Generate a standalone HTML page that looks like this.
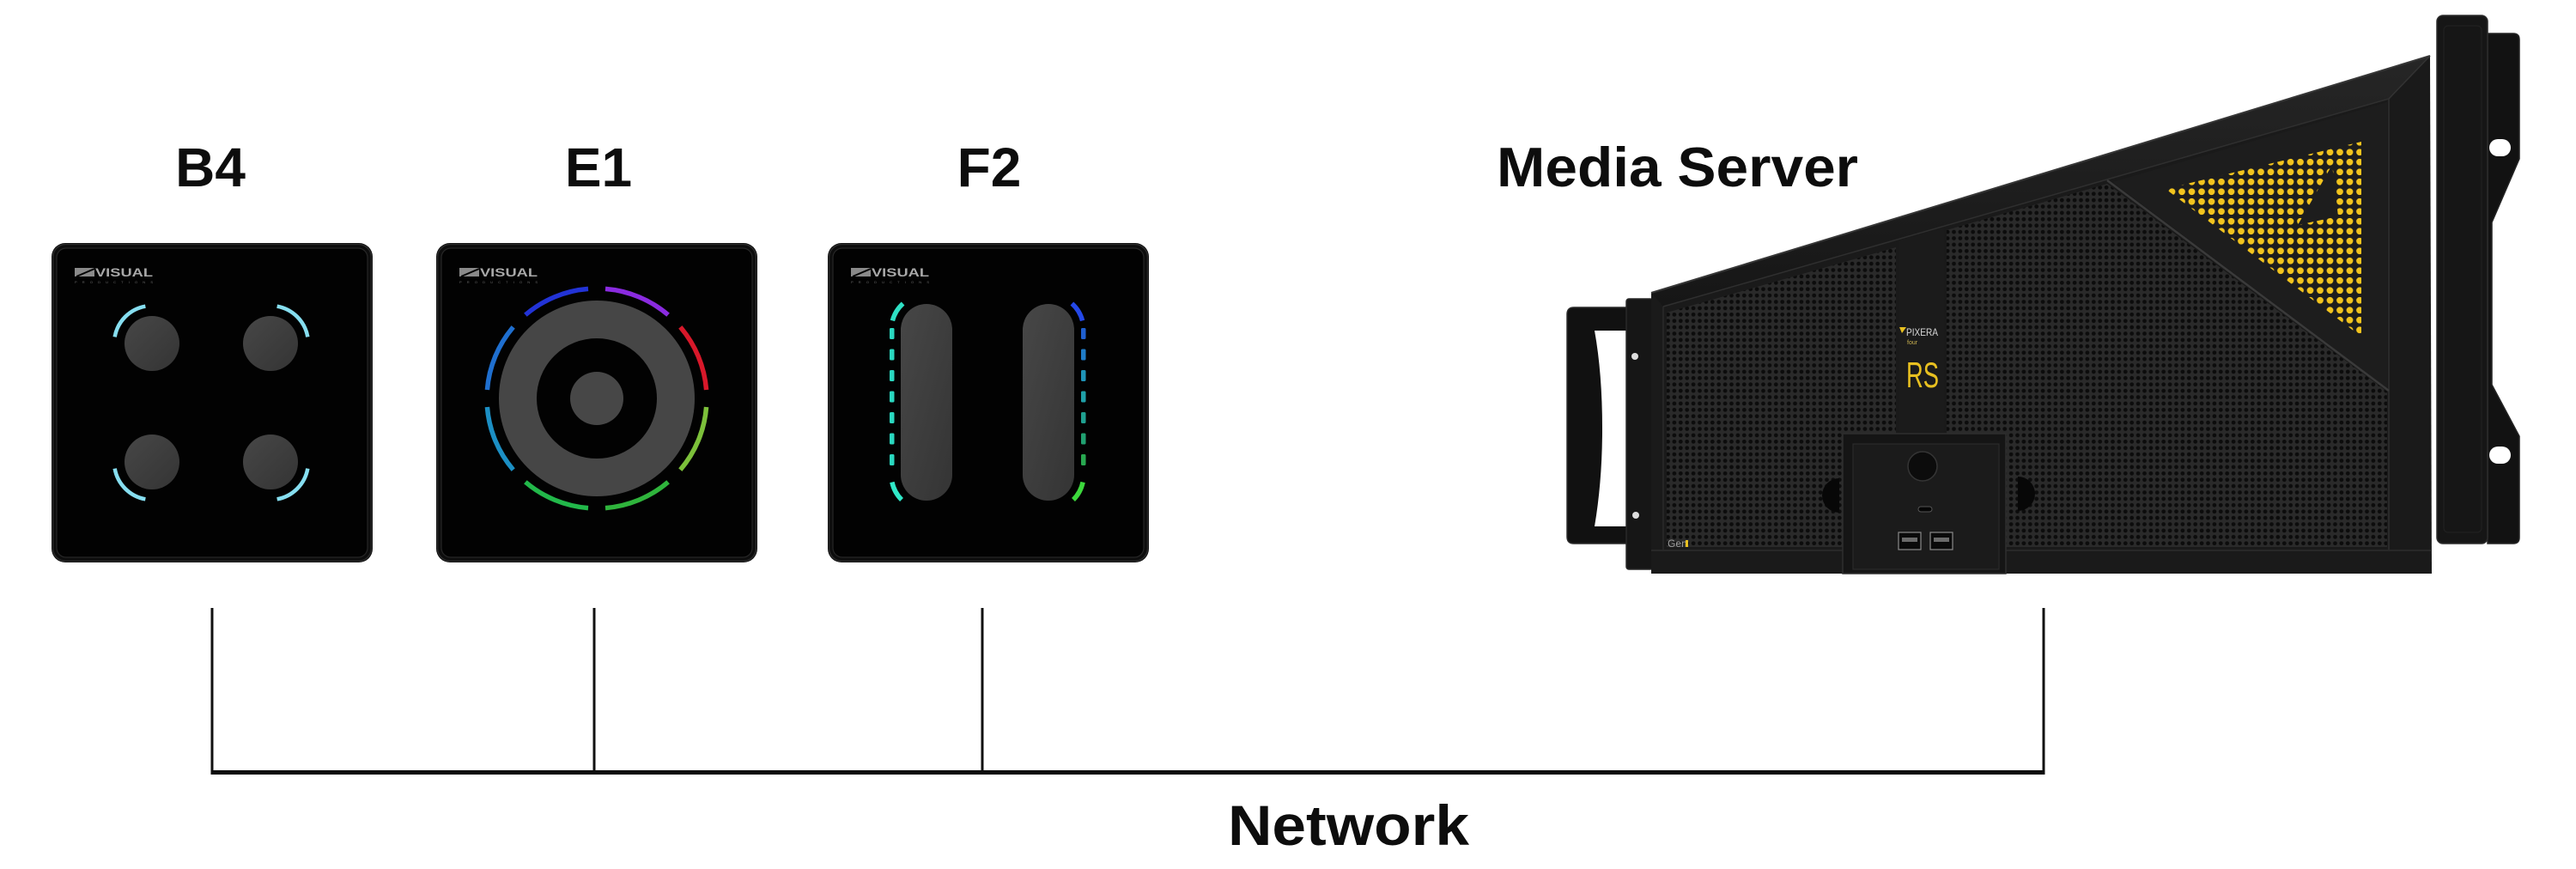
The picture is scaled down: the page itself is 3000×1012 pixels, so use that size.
<!DOCTYPE html>
<html>
<head>
<meta charset="utf-8">
<style>
  html, body { margin: 0; padding: 0; background: #ffffff; }
  body { width: 3000px; height: 1012px; overflow: hidden; }
  svg { display: block; }
  .lbl { font-family: "Liberation Sans", Arial, sans-serif; font-weight: bold; fill: #0d0d0d; }
</style>
</head>
<body>
<svg width="3000" height="1012" viewBox="0 0 3000 1012" xmlns="http://www.w3.org/2000/svg">
  <defs>
    <pattern id="perf" patternUnits="userSpaceOnUse" width="7.4" height="7.4">
      <rect width="7.4" height="7.4" fill="#2a2a2a"/>
      <circle cx="3.7" cy="3.7" r="2.4" fill="#0c0c0c"/>
    </pattern>
    <pattern id="ydots" patternUnits="userSpaceOnUse" x="2742.25" y="160" width="11.5" height="11.5">
      <circle cx="5.75" cy="5.75" r="3.9" fill="#f2c41e"/>
    </pattern>
    <linearGradient id="btn" x1="0" y1="0" x2="1" y2="1">
      <stop offset="0" stop-color="#474747"/>
      <stop offset="1" stop-color="#343434"/>
    </linearGradient>
    <linearGradient id="topedge" x1="0" y1="0" x2="0" y2="1">
      <stop offset="0" stop-color="#262626"/>
      <stop offset="1" stop-color="#161616"/>
    </linearGradient>
  </defs>

  <rect width="3000" height="1012" fill="#ffffff"/>

  <!-- Labels -->
  <text class="lbl" x="245" y="217" font-size="64" text-anchor="middle">B4</text>
  <text class="lbl" x="697" y="217" font-size="64" text-anchor="middle">E1</text>
  <text class="lbl" x="1152" y="217" font-size="64" text-anchor="middle">F2</text>
  <text class="lbl" x="1743" y="217" font-size="65" textLength="421" lengthAdjust="spacingAndGlyphs">Media Server</text>
  <text class="lbl" x="1430" y="984" font-size="66" textLength="281" lengthAdjust="spacingAndGlyphs">Network</text>

  <!-- Network lines -->
  <rect x="245.5" y="708" width="3" height="194" fill="#111"/>
  <rect x="690.5" y="708" width="3" height="194" fill="#111"/>
  <rect x="1142.5" y="708" width="3" height="194" fill="#111"/>
  <rect x="2378.5" y="708" width="3" height="194" fill="#111"/>
  <rect x="245.5" y="897" width="2136" height="5" fill="#0d0d0d"/>

  <!-- ===== B4 ===== -->
  <g transform="translate(60,283)">
    <rect x="0" y="0" width="374" height="372" rx="16" fill="#0d0d0d"/>
    <rect x="1.5" y="1.5" width="371" height="369" rx="15" fill="none" stroke="#2a2a2a" stroke-width="1.5"/>
    <rect x="6" y="6" width="362" height="360" rx="11" fill="#020202" stroke="#262626" stroke-width="1.2"/>
    <rect x="27" y="29" width="23" height="10" fill="#8a8a8a"/>
    <line x1="29" y1="39" x2="50" y2="30" stroke="#020202" stroke-width="2"/>
    <text x="51" y="39" font-family="Liberation Sans, sans-serif" font-weight="bold" font-size="14" fill="#a8a8a8" textLength="67" lengthAdjust="spacingAndGlyphs">VISUAL</text>
    <text x="27" y="47" font-family="Liberation Sans, sans-serif" font-size="4" fill="#6a6a6a" textLength="91" lengthAdjust="spacing">PRODUCTIONS</text>
    <circle cx="117" cy="117" r="32" fill="url(#btn)"/>
    <circle cx="255" cy="117" r="32" fill="url(#btn)"/>
    <circle cx="117" cy="255" r="32" fill="url(#btn)"/>
    <circle cx="255" cy="255" r="32" fill="url(#btn)"/>
    <g fill="none" stroke="#86def0" stroke-width="4.5">
      <path d="M73.67 109.36 A44 44 0 0 1 109.36 73.67"/>
      <path d="M262.64 73.67 A44 44 0 0 1 298.33 109.36"/>
      <path d="M109.36 298.33 A44 44 0 0 1 73.67 262.64"/>
      <path d="M298.33 262.64 A44 44 0 0 1 262.64 298.33"/>
    </g>
  </g>

  <!-- ===== E1 ===== -->
  <g transform="translate(508,283)">
    <rect x="0" y="0" width="374" height="372" rx="16" fill="#0d0d0d"/>
    <rect x="1.5" y="1.5" width="371" height="369" rx="15" fill="none" stroke="#2a2a2a" stroke-width="1.5"/>
    <rect x="6" y="6" width="362" height="360" rx="11" fill="#020202" stroke="#262626" stroke-width="1.2"/>
    <rect x="27" y="29" width="23" height="10" fill="#8a8a8a"/>
    <line x1="29" y1="39" x2="50" y2="30" stroke="#020202" stroke-width="2"/>
    <text x="51" y="39" font-family="Liberation Sans, sans-serif" font-weight="bold" font-size="14" fill="#a8a8a8" textLength="67" lengthAdjust="spacingAndGlyphs">VISUAL</text>
    <text x="27" y="47" font-family="Liberation Sans, sans-serif" font-size="4" fill="#6a6a6a" textLength="91" lengthAdjust="spacing">PRODUCTIONS</text>
    <circle cx="187" cy="181" r="92" fill="none" stroke="#464646" stroke-width="44"/>
    <circle cx="187" cy="181" r="31" fill="#474747"/>
    <g fill="none" stroke-width="5.5">
      <path d="M314.6 191.0 A128 128 0 0 1 284.3 264.1" stroke="#7cc03a"/>
      <path d="M270.1 278.3 A128 128 0 0 1 197.0 308.6" stroke="#2fb43c"/>
      <path d="M177.0 308.6 A128 128 0 0 1 103.9 278.3" stroke="#22b84a"/>
      <path d="M89.7 264.1 A128 128 0 0 1 59.4 191.0" stroke="#1c8fc4"/>
      <path d="M59.4 171.0 A128 128 0 0 1 89.7 97.9" stroke="#1f6fcf"/>
      <path d="M103.9 83.7 A128 128 0 0 1 177.0 53.4" stroke="#2233d6"/>
      <path d="M197.0 53.4 A128 128 0 0 1 270.1 83.7" stroke="#8a2be0"/>
      <path d="M284.3 97.9 A128 128 0 0 1 314.6 171.0" stroke="#d8182a"/>
    </g>
  </g>

  <!-- ===== F2 ===== -->
  <g transform="translate(964,283)">
    <rect x="0" y="0" width="374" height="372" rx="16" fill="#0d0d0d"/>
    <rect x="1.5" y="1.5" width="371" height="369" rx="15" fill="none" stroke="#2a2a2a" stroke-width="1.5"/>
    <rect x="6" y="6" width="362" height="360" rx="11" fill="#020202" stroke="#262626" stroke-width="1.2"/>
    <rect x="27" y="29" width="23" height="10" fill="#8a8a8a"/>
    <line x1="29" y1="39" x2="50" y2="30" stroke="#020202" stroke-width="2"/>
    <text x="51" y="39" font-family="Liberation Sans, sans-serif" font-weight="bold" font-size="14" fill="#a8a8a8" textLength="67" lengthAdjust="spacingAndGlyphs">VISUAL</text>
    <text x="27" y="47" font-family="Liberation Sans, sans-serif" font-size="4" fill="#6a6a6a" textLength="91" lengthAdjust="spacing">PRODUCTIONS</text>
    <rect x="85" y="71" width="60" height="229" rx="30" fill="url(#btn)"/>
    <rect x="227" y="71" width="60" height="229" rx="30" fill="url(#btn)"/>
    <g fill="none" stroke-width="5.5">
      <path d="M75.4 90.4 A41 41 0 0 1 87.6 70.5" stroke="#2ee0c4"/>
      <path d="M74.9 278.5 A41 41 0 0 0 86 299" stroke="#30e8c8"/>
      <path d="M296.6 90.4 A41 41 0 0 0 284.4 70.5" stroke="#2448e8"/>
      <path d="M297.1 278.5 A41 41 0 0 1 286 299" stroke="#3cd83c"/>
    </g>
    <g fill="#2ad8c0">
      <rect x="72" y="99" width="5.5" height="13" rx="1.5"/>
      <rect x="72" y="123.5" width="5.5" height="13" rx="1.5"/>
      <rect x="72" y="148" width="5.5" height="13" rx="1.5"/>
      <rect x="72" y="172.5" width="5.5" height="13" rx="1.5"/>
      <rect x="72" y="197" width="5.5" height="13" rx="1.5"/>
      <rect x="72" y="221.5" width="5.5" height="13" rx="1.5"/>
      <rect x="72" y="246" width="5.5" height="13" rx="1.5"/>
    </g>
    <rect x="295" y="99" width="5.5" height="13" rx="1.5" fill="#1f5fd0"/>
    <rect x="295" y="123.5" width="5.5" height="13" rx="1.5" fill="#1f7cc8"/>
    <rect x="295" y="148" width="5.5" height="13" rx="1.5" fill="#1f94b8"/>
    <rect x="295" y="172.5" width="5.5" height="13" rx="1.5" fill="#1fa0a8"/>
    <rect x="295" y="197" width="5.5" height="13" rx="1.5" fill="#1fa090"/>
    <rect x="295" y="221.5" width="5.5" height="13" rx="1.5" fill="#20a070"/>
    <rect x="295" y="246" width="5.5" height="13" rx="1.5" fill="#28a850"/>
  </g>

  <!-- ===== Media Server ===== -->
  <!-- right ear flange -->
  <path d="M2897,39 H2927 Q2934,39 2934,46 V185 L2902,259 V448 L2934,508 V626 Q2934,633 2927,633 H2897 Z" fill="#121212" stroke="#242424" stroke-width="1.5"/>
  <rect x="2899" y="162" width="25" height="20" rx="10" fill="#ffffff"/>
  <rect x="2899" y="520" width="25" height="20" rx="10" fill="#ffffff"/>
  <!-- right ear front plate -->
  <rect x="2838" y="18" width="59" height="615" rx="7" fill="#161616" stroke="#2c2c2c" stroke-width="1.5"/>
  <rect x="2846" y="30" width="44" height="590" rx="5" fill="none" stroke="#222" stroke-width="1"/>

  <!-- handle -->
  <path d="M1833,358 H1898 V633 H1833 Q1825,633 1825,625 V366 Q1825,358 1833,358 Z" fill="#111111" stroke="#2a2a2a" stroke-width="1.5"/>
  <path d="M1857,385 H1898 V613 H1857 Q1866,560 1866,499 Q1866,435 1857,385 Z" fill="#ffffff"/>
  <!-- left ear -->
  <rect x="1894" y="348" width="31" height="315" rx="3" fill="#161616" stroke="#282828" stroke-width="1.5"/>
  <circle cx="1904" cy="415" r="4" fill="#dddddd"/>
  <circle cx="1905" cy="600" r="4" fill="#dddddd"/>

  <!-- body -->
  <path d="M1923,341 L2830,65 L2832,668 L1923,668 Z" fill="#1a1a1a"/>
  <path d="M1923,341 L2830,65 L2782,115 L1937,357 Z" fill="url(#topedge)"/>
  <line x1="1923" y1="341" x2="2830" y2="65" stroke="#363636" stroke-width="2"/>
  <line x1="2782" y1="115" x2="2830" y2="65" stroke="#333" stroke-width="1.5"/>
  <line x1="1937" y1="357" x2="2782" y2="115" stroke="#2f2f2f" stroke-width="1.5"/>
  <line x1="2782" y1="115" x2="2782" y2="640" stroke="#2f2f2f" stroke-width="1.5"/>
  <line x1="1937" y1="357" x2="1937" y2="640" stroke="#2a2a2a" stroke-width="1.5"/>
  <line x1="1923" y1="641" x2="2832" y2="641" stroke="#2c2c2c" stroke-width="1.5"/>

  <!-- left perforated panel -->
  <path d="M1941,364 L2208,288 L2208,637 L1941,637 Z" fill="url(#perf)"/>
  <!-- center strip -->
  <path d="M2211,280 L2264,265 L2264,505 L2211,505 Z" fill="#1b1b1b"/>
  <!-- right perforated panel -->
  <path d="M2267,268 L2454,214 L2780,456 L2780,637 L2267,637 Z" fill="url(#perf)"/>
  <!-- triangle panel -->
  <path d="M2460,212 L2780,119 L2780,452 Z" fill="#1d1d1d"/>
  <line x1="2454" y1="210" x2="2782" y2="455" stroke="#3a3a3a" stroke-width="2.5"/>
  <path d="M2522,220 L2750,165 L2750,392 Z M2716,192 L2723,252 L2676,262 Z" fill="url(#ydots)" fill-rule="evenodd"/>

  <!-- cutouts -->
  <path d="M2142,557 A20 20 0 0 0 2142,597 Z" fill="#070707"/>
  <path d="M2350,555 A20 20 0 0 1 2350,595 Z" fill="#070707"/>

  <!-- USB module -->
  <rect x="2146" y="505" width="190" height="163" fill="#151515" stroke="#2e2e2e" stroke-width="1.5"/>
  <rect x="2158" y="517" width="170" height="146" fill="#1b1b1b" stroke="#2a2a2a" stroke-width="1.2"/>
  <circle cx="2239" cy="543" r="17" fill="#0c0c0c" stroke="#353535" stroke-width="1.5"/>
  <rect x="2234" y="590" width="16" height="6" rx="3" fill="#050505" stroke="#555" stroke-width="1"/>
  <rect x="2211" y="620" width="26" height="20" fill="#0a0a0a" stroke="#8a8a8a" stroke-width="1.2"/>
  <rect x="2215" y="626" width="18" height="5" fill="#6a6a6a"/>
  <rect x="2248" y="620" width="26" height="20" fill="#0a0a0a" stroke="#8a8a8a" stroke-width="1.2"/>
  <rect x="2252" y="626" width="18" height="5" fill="#6a6a6a"/>

  <!-- logos on server -->
  <polygon points="2212,381 2220,381 2215,388" fill="#e8c020"/>
  <text x="2220" y="391" font-family="Liberation Sans Narrow, Liberation Sans, sans-serif" font-size="12" fill="#d8d8d8" textLength="37" lengthAdjust="spacingAndGlyphs">PIXERA</text>
  <text x="2221" y="401" font-family="Liberation Sans, sans-serif" font-size="7" fill="#c8b050">four</text>
  <text x="2220" y="451" font-family="Liberation Sans, sans-serif" font-size="42" fill="#e8c020" textLength="38" lengthAdjust="spacingAndGlyphs">RS</text>
  <text x="1942" y="637" font-family="Liberation Sans, sans-serif" font-size="12" fill="#a0a0a0">Gen</text>
  <rect x="1963" y="629" width="3" height="8" fill="#e8c020"/>
</svg>
</body>
</html>
